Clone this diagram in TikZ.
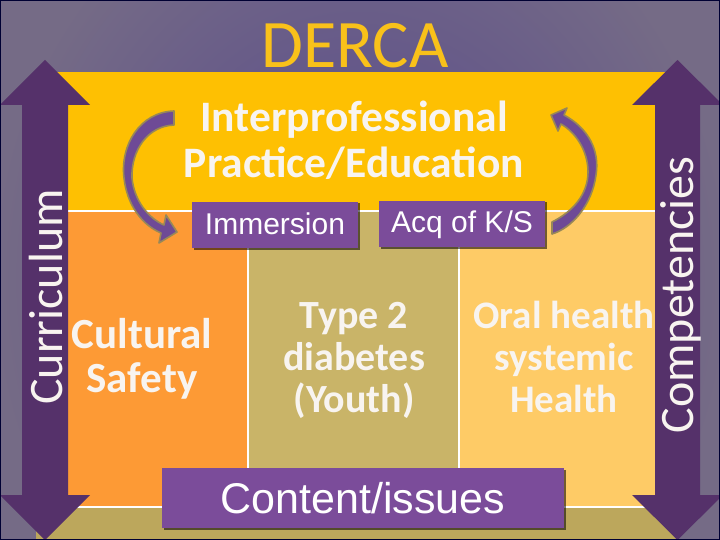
\documentclass[tikz,border=0pt]{standalone}
\usepackage{fontspec}
\setmainfont{Carlito}
\newfontfamily\arialfont{Liberation Sans}
\usetikzlibrary{shadows}
\definecolor{bgin}{HTML}{56478C}
\definecolor{bgout}{HTML}{756B86}
\definecolor{gold}{HTML}{FEC002}
\definecolor{dercayel}{HTML}{F9C11A}
\definecolor{cellorange}{HTML}{FD9A35}
\definecolor{cellolive}{HTML}{C9B468}
\definecolor{celllight}{HTML}{FECB66}
\definecolor{stripolive}{HTML}{BCA75C}
\definecolor{arrowpurple}{HTML}{55316A}
\definecolor{boxpurple}{HTML}{7B4C9A}
\definecolor{curvefill}{HTML}{6E4A96}
\definecolor{curveline}{HTML}{978858}
\definecolor{txtwhite}{HTML}{F8F4F0}
\begin{document}
\begin{tikzpicture}[x=1pt,y=-1pt,
  celltext/.style={text=txtwhite, anchor=base, inner sep=0pt, font=\bfseries\fontsize{40}{40}\selectfont},
  titletext/.style={text=txtwhite, anchor=base, inner sep=0pt, font=\bfseries\fontsize{43.5}{46}\selectfont},
  purplebox/.style={fill=boxpurple, text=white, inner sep=0pt, text depth=0pt,
    drop shadow={shadow xshift=1.5pt, shadow yshift=-1.5pt, opacity=0.55, fill=black}},
  sidetext/.style={text=txtwhite, rotate=90, anchor=base, inner sep=0pt, font=\fontsize{48}{48}\selectfont},
  curvearrow/.style={fill=curvefill, draw=curveline, line width=1.6pt, line join=round},
  sep/.style={draw=white, line width=1.2pt}
]
\useasboundingbox (0,0) rectangle (720,540);
\begin{scope}
\clip (0,0) rectangle (720,540);
% background
\fill[bgout] (0,0) rectangle (720,540);
\shade[inner color=bgin, outer color=bgout] (360,280) ellipse (370 and 430);
% panels
\fill[gold] (36,72) rectangle (677,211);
\fill[cellorange] (36,211) rectangle (248,507);
\fill[cellolive] (248,211) rectangle (459,507);
\fill[celllight] (459,211) rectangle (677,507);
\fill[stripolive] (36,507) rectangle (677,540);
\draw[sep] (36,211) -- (677,211);
\draw[sep] (36,507) -- (677,507);
\draw[sep] (248,211) -- (248,507);
\draw[sep] (459,211) -- (459,507);
% title
\node[text=dercayel, anchor=base, inner sep=0pt, font=\fontsize{68}{68}\selectfont] (derca) at (355,68) {DERCA};
\node[titletext] (ip1) at (354,132) {Interprofessional};
\node[titletext] (ip2) at (354,178) {Practice/Education};
% cell texts
\node[celltext, font=\bfseries\fontsize{43}{43}\selectfont] (cs1) at (142,348) {Cultural};
\node[celltext, font=\bfseries\fontsize{43}{43}\selectfont] (cs2) at (142,392) {Safety};
\node[celltext] (td1) at (354,328) {Type 2};
\node[celltext] (td2) at (354,370) {diabetes};
\node[celltext] (td3) at (354,412) {(Youth)};
\node[celltext, font=\bfseries\fontsize{39}{39}\selectfont] (oh1) at (564,328) {Oral health};
\node[celltext, font=\bfseries\fontsize{39}{39}\selectfont] (oh2) at (564,370) {systemic};
\node[celltext, font=\bfseries\fontsize{39}{39}\selectfont] (oh3) at (564,412) {Health};
% boxes
\node[purplebox, minimum width=166pt, minimum height=46pt, text height=18pt,
  font=\arialfont\fontsize{30}{30}\selectfont] (imm) at (275,225) {Immersion};
\node[purplebox, minimum width=166pt, minimum height=46pt, text height=18pt,
  font=\arialfont\fontsize{30}{30}\selectfont] (acq) at (462,224) {Acq of K/S};
\node[purplebox, minimum width=402pt, minimum height=60pt, text height=30pt,
  font=\arialfont\fontsize{43}{43}\selectfont] (content) at (363,498) {Content/issues};
% curved arrows
\path[curvearrow] (174,111) .. controls (140,112) and (120,145) .. (124,178)
  .. controls (127,205) and (142,225) .. (161,233)
  -- (159,243) -- (177,232) -- (166,215) -- (164,225)
  .. controls (148,218) and (134,200) .. (132,178)
  .. controls (131,150) and (148,126) .. (174,125) -- cycle;
\path[curvearrow] (552,222) .. controls (572,212) and (588,195) .. (588,172)
  .. controls (588,150) and (575,132) .. (561,124)
  -- (558,131) -- (551,115) -- (567,108) -- (564,115)
  .. controls (588,128) and (600,150) .. (596,175)
  .. controls (592,205) and (572,228) .. (552,234) -- cycle;
% side arrows
\fill[arrowpurple] (22,105) -- (0,105) -- (45,60) -- (90,105) -- (68,105) -- (68,495)
  -- (90,495) -- (45,540) -- (0,495) -- (22,495) -- cycle;
\fill[arrowpurple] (655,105) -- (632,105) -- (677.5,60) -- (723,105) -- (700,105) -- (700,495)
  -- (723,495) -- (677.5,540) -- (632,495) -- (655,495) -- cycle;
\node[sidetext] (curr) at (62,297) {Curriculum};
\node[sidetext] (comp) at (693,295) {Competencies};
\draw[color=black!80!blue, line width=2pt] (0,0) rectangle (720,540);
\end{scope}
\end{tikzpicture}
\end{document}
